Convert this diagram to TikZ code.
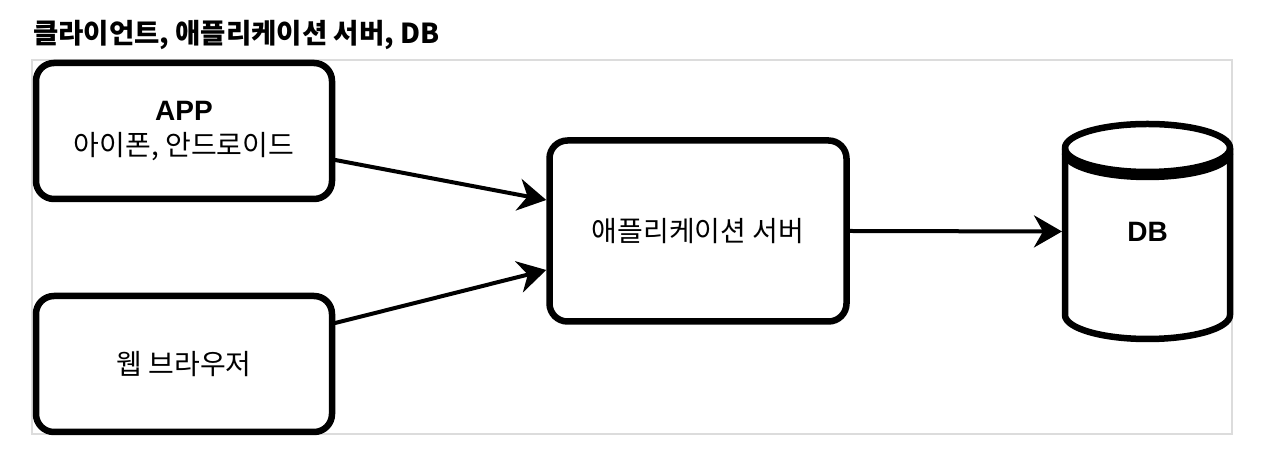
\documentclass[tikz,border=0pt]{standalone}
\usepackage{fontspec}
\setmainfont{Liberation Sans}
\newfontfamily\kr{Noto Sans CJK KR}
\usetikzlibrary{arrows.meta,backgrounds}
\definecolor{framegray}{HTML}{DCDCDC}
\tikzset{
  box/.style={draw=black, line width=6.5pt, rounded corners=18pt, fill=white, align=center, inner sep=0pt},
  conn/.style={line width=4pt, line cap=round, -{Stealth[length=28pt, width=32pt, inset=9pt]}},
  cyl/.style={line width=6.5pt, line join=round},
  ktext/.style={font=\kr\fontsize{28}{34}\selectfont},
  ltext/.style={font=\fontsize{28}{34}\selectfont\bfseries},
}
\begin{document}
\begin{tikzpicture}[x=1pt, y=1pt]
\begin{pgfonlayer}{background}
\fill[white] (0,0) rectangle (1268,470);
\draw[framegray, line width=2pt] (32,36) rectangle (1232,410);
\end{pgfonlayer}
\useasboundingbox (0,0) rectangle (1268,470);
% title
\node[anchor=base west, inner sep=0pt, font=\kr\bfseries\fontsize{27.5}{32}\selectfont] (title) at (33,426) {클라이언트, 애플리케이션 서버, DB};
% boxes
\node[box, font=\fontsize{28}{35}\selectfont, minimum width=296pt, minimum height=136pt] (app) at (184,339)
  {{\bfseries APP}\\{\kr 아이폰, 안드로이드}};
\node[box, ktext, minimum width=296pt, minimum height=136pt] (web) at (184,106) {웹 브라우저};
\node[box, ktext, minimum width=297pt, minimum height=181pt] (srv) at (698,239) {애플리케이션 서버};
% database cylinder
\node[ltext, minimum width=165pt, minimum height=167pt, inner sep=0pt, outer sep=0pt] (db) at (1147.5,238.5) {DB};
\begin{pgfonlayer}{background}
\draw[cyl, fill=white] (db.north west) -- (db.south west)
   arc[start angle=180, end angle=360, x radius=82.5pt, y radius=24pt]
   -- (db.north east)
   arc[start angle=0, end angle=180, x radius=82.5pt, y radius=24pt] -- cycle;
\draw[cyl] (db.north west) arc[start angle=180, end angle=360, x radius=82.5pt, y radius=24pt];
\draw[cyl] ([yshift=-5pt]db.north west) arc[start angle=180, end angle=360, x radius=82.5pt, y radius=24pt];
\end{pgfonlayer}
% connectors
\draw[conn] ([yshift=-29pt]app.east) -- ([yshift=31pt]srv.west);
\draw[conn] ([yshift=41pt]web.east) -- ([yshift=-39pt]srv.west);
\draw[conn] (srv.east) -- ([xshift=-3pt]db.west);
\end{tikzpicture}
\end{document}
